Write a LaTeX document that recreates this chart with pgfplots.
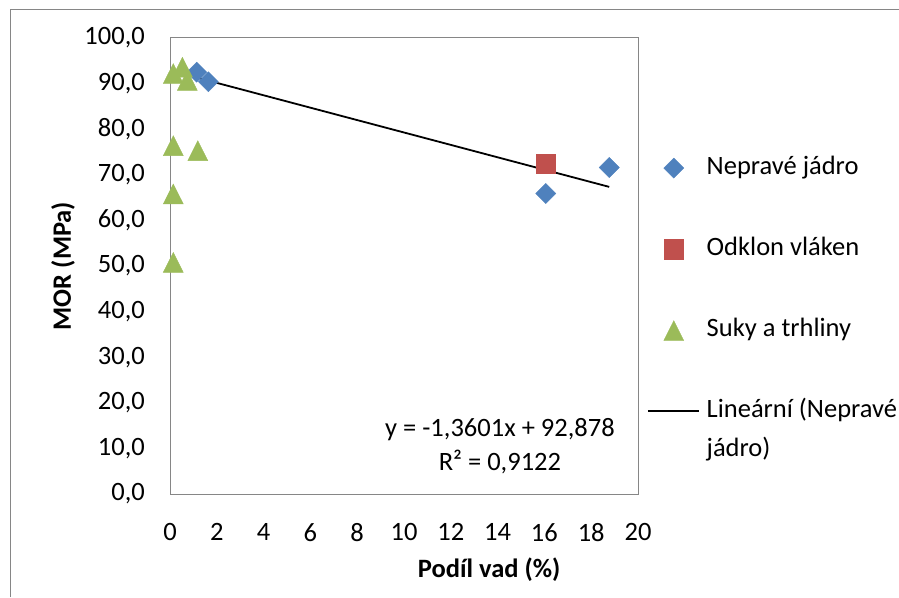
\documentclass[border=0pt]{standalone}
\usepackage{pgfplots}
\pgfplotsset{compat=1.18}
\usepackage{fontspec}
\setmainfont{Carlito}
\definecolor{cblue}{HTML}{4F81BD}
\definecolor{cred}{HTML}{C0504D}
\definecolor{cgreen}{HTML}{9BBB59}
\definecolor{axgray}{HTML}{868686}
\pgfplotsset{
  marklegend/.style={legend image code/.code={\path[draw=none,fill=none] (0pt,0pt) -- (51pt,0pt); \draw[##1,/tikz/only marks] plot coordinates {(26pt,0pt)};}},
  linelegend/.style={legend image code/.code={\draw[##1] (0pt,0pt) -- (51pt,0pt);}},
}
\begin{document}
\fontsize{26.5}{32}\selectfont
\begin{tikzpicture}[x=1pt,y=1pt]
\begin{axis}[
  at={(170pt,103pt)}, anchor=south west,
  scale only axis, width=468pt, height=456pt,
  xmin=0, xmax=20, ymin=0, ymax=100,
  xtick={0,2,...,20}, ytick={0,10,...,100},
  major tick length=0pt,
  clip=false, axis on top=true,
  axis line style={draw=axgray, line width=1pt},
  /pgf/number format/assume math mode=true,
  every tick label/.append style={inner sep=0pt, font=\fontsize{26.5}{32}\selectfont},
  yticklabel style={xshift=-25pt, /pgf/number format/.cd, fixed, fixed zerofill, precision=1, use comma},
  xticklabel style={yshift=-29pt},
  xlabel={\bfseries Podíl vad (\%)},
  xlabel style={at={(axis description cs:0.682,-0.1667)}, anchor=center, inner sep=0pt},
  ylabel={\bfseries MOR (MPa)},
  ylabel style={at={(axis description cs:-0.2286,0.5)}, anchor=center, inner sep=0pt},
  legend cell align=left,
  legend style={at={(axis description cs:1.019,0.741)}, anchor=north west, draw=none, fill=none,
    inner sep=0pt, outer sep=0pt, row sep=57pt,
    font=\fontsize{26.5}{32}\selectfont,
    nodes={inner sep=0pt, text height=18pt, text depth=6pt},
    /tikz/every odd column/.append style={column sep=7pt}},
]
\addplot[only marks, mark=square*, color=cblue, mark size=7.1pt,
  mark options={rotate=45, draw=none, fill=cblue}, marklegend]
  coordinates {(1.14,92.5) (1.64,90.4) (16.06,65.9) (18.77,71.6)};
\addlegendentry{Nepravé jádro}
\addplot[only marks, mark=square*, color=cred, mark size=9.7pt,
  mark options={draw=none, fill=cred}, marklegend]
  coordinates {(16.06,72.4)};
\addlegendentry{Odklon vláken}
\addplot[only marks, mark=triangle*, color=cgreen, mark size=11.5pt,
  mark options={draw=none, fill=cgreen, yscale=1.15, yshift=-3.3pt}, marklegend]
  coordinates {(0.53,93.7) (0.14,92.3) (0.74,90.8) (0.14,76.5) (1.19,75.4) (0.14,65.9) (0.14,50.9)};
\addlegendentry{Suky a trhliny}
\addplot[black, line width=1.8pt, linelegend]
  coordinates {(1.14,91.3275) (18.77,67.349)};
\addlegendentry{\begin{tabular}[t]{@{}l@{}}Lineární (Nepravé\\[7pt]jádro)\end{tabular}}
\draw[black, line width=1pt] (rel axis cs:0,1) -- (rel axis cs:1,1);
\node[anchor=center, inner sep=0pt] at (axis description cs:0.705,0.1404) {y = -1,3601x + 92,878};
\node[anchor=center, inner sep=0pt] at (axis description cs:0.705,0.0702) {R² = 0,9122};
\end{axis}
\draw[axgray, line width=1pt] (10pt,0pt) -- (10pt,587pt) -- (899pt,587pt);
\pgfresetboundingbox
\path (0pt,0pt) rectangle (899pt,597pt);
\end{tikzpicture}
\end{document}
